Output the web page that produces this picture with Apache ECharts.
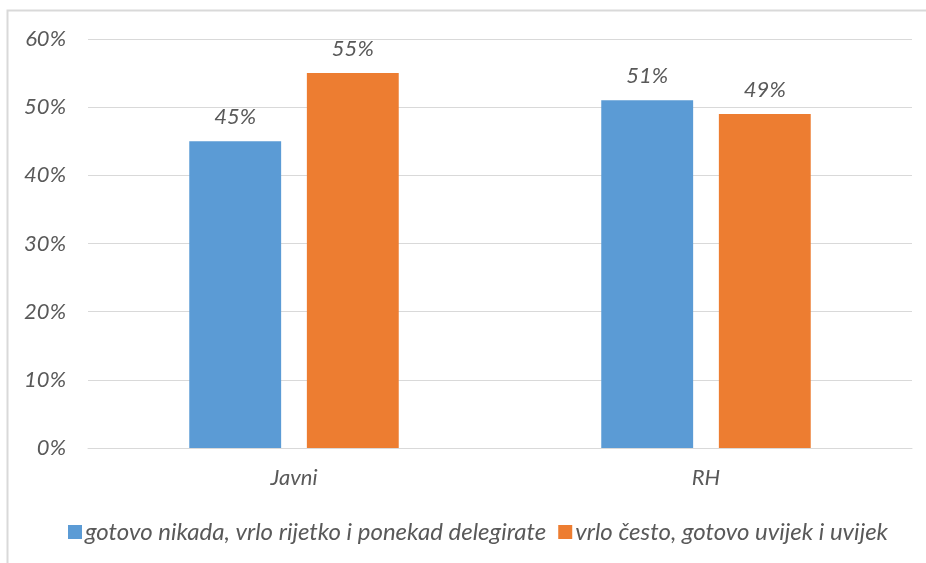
<!DOCTYPE html>
<html><head><meta charset="utf-8">
<script src="https://cdn.jsdelivr.net/npm/echarts@6/dist/echarts.min.js"></script>
<style>html,body{margin:0;padding:0;background:#fff}#c{width:926px;height:563px}</style>
</head><body><div id="c"></div>
<script>
var categories = ["Javni", "RH"];
var seriesNames = ["gotovo nikada, vrlo rijetko i ponekad delegirate", "vrlo često, gotovo uvijek i uvijek"];
var valuesA = [45, 51];
var valuesB = [55, 49];
var yTicks = [0, 10, 20, 30, 40, 50, 60];

var font = "Lato";
var grey = "#595959";
var fs = 22;
var chart = echarts.init(document.getElementById('c'));
function lbl(){return {show:true,position:'top',distance:13,formatter:function(p){return p.value+'%';},color:grey,fontStyle:'italic',fontSize:fs,fontFamily:font};}
chart.setOption({
  animation:false,
  graphic:[{type:'rect',shape:{x:7.5,y:10.5,width:940,height:600},style:{fill:'none',stroke:'#d9d9d9',lineWidth:2}}],
  grid:{left:88,right:14,top:39,bottom:115},
  legend:{bottom:14,left:63,itemWidth:14,itemHeight:14,itemGap:12,icon:'rect',
    textStyle:{color:grey,fontStyle:'italic',fontSize:24,fontFamily:font,padding:[0,0,0,-2]}},
  xAxis:{type:'category',data:categories,axisTick:{show:false},
    axisLine:{lineStyle:{color:'#d9d9d9'}},
    axisLabel:{color:grey,fontStyle:'italic',fontSize:fs,fontFamily:font,margin:19}},
  yAxis:{type:'value',min:yTicks[0],max:yTicks[yTicks.length-1],interval:10,
    axisLabel:{formatter:'{value}%',color:grey,fontStyle:'italic',fontSize:fs,fontFamily:font,margin:22},
    splitLine:{lineStyle:{color:'#d9d9d9'}},axisLine:{show:false},axisTick:{show:false}},
  series:[
    {name:seriesNames[0],type:'bar',data:valuesA,barWidth:'22.3%',barGap:'28%',itemStyle:{color:'#5B9BD5'},label:lbl()},
    {name:seriesNames[1],type:'bar',data:valuesB,barWidth:'22.3%',itemStyle:{color:'#ED7D31'},label:lbl()}
  ]
});
</script></body></html>
